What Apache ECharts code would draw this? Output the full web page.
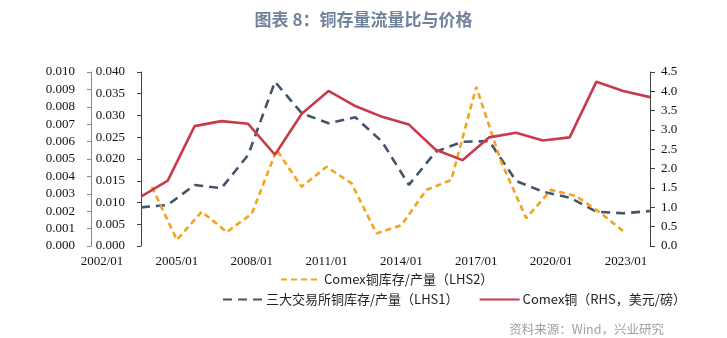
<!DOCTYPE html>
<html>
<head>
<meta charset="utf-8">
<script src="https://cdn.jsdelivr.net/npm/echarts@6/dist/echarts.min.js"></script>
<style>html,body{margin:0;padding:0;background:#fff;}#c{width:727px;height:338px;}</style>
</head>
<body>
<div id="c"></div>
<script>
// Categories for the price / three-exchange series (secondary x axis)
var years = ['2004','2005','2006','2007','2008','2009','2010','2011','2012','2013','2014','2015','2016','2017','2018','2019','2020','2021','2022','2023'];
// Tick labels of the visible (primary) x axis
var tickLabels = ['2002/01','2003/01','2004/01','2005/01','2006/01','2007/01','2008/01','2009/01','2010/01','2011/01','2012/01','2013/01','2014/01','2015/01','2016/01','2017/01','2018/01','2019/01','2020/01','2021/01','2022/01','2023/01'];
// Comex copper inventory / production (LHS2), 2004-2023
var comexRatio = [0.0136,0.0014,0.0079,0.0032,0.0074,0.0221,0.0136,0.0182,0.0144,0.0029,0.0048,0.0129,0.0152,0.0366,0.0193,0.0064,0.0129,0.0115,0.0075,0.0029];
// Three exchanges copper inventory / production (LHS1), 2004-2023
var exchRatio = [0.00222,0.00236,0.00351,0.00332,0.00523,0.00944,0.00763,0.00705,0.00740,0.00599,0.00351,0.00542,0.00599,0.00603,0.00374,0.00312,0.00278,0.00197,0.00188,0.00201];
// Comex copper price (RHS, USD/lb), 2004-2023
var comexPrice = [1.28,1.69,3.10,3.23,3.16,2.36,3.42,4.01,3.62,3.34,3.14,2.49,2.22,2.81,2.93,2.73,2.81,4.25,4.01,3.85];

var orangeData = [null, null].concat(comexRatio);

var serif = 'Liberation Serif';
var cjk = 'Noto Sans CJK SC';
var axisLabelBase = {fontFamily: serif, fontSize: 13, color: '#111'};

var chart = echarts.init(document.getElementById('c'), null, {renderer: 'canvas'});
chart.setOption({
  animation: false,
  backgroundColor: '#fff',
  title: [{
    text: '图表 8：铜存量流量比与价格',
    left: 'center', top: 6,
    textStyle: {fontFamily: cjk, fontSize: 17, fontWeight: 'bold', color: '#71829b'}
  }, {
    text: '资料来源：Wind，兴业研究',
    right: 58, top: 318,
    textStyle: {fontFamily: cjk, fontSize: 12.5, fontWeight: 'normal', color: '#a0a0a0'}
  }],
  legend: [{
    data: ['Comex铜库存/产量（LHS2）'],
    left: 275, top: 268,
    itemWidth: 40, itemHeight: 10, itemGap: 10,
    itemStyle: {opacity: 0},
    textStyle: {fontFamily: cjk, fontSize: 13, color: '#222', padding: [0,0,0,-2]}
  }, {
    data: ['三大交易所铜库存/产量（LHS1）', 'Comex铜（RHS，美元/磅）'],
    left: 217, top: 288,
    itemWidth: 40, itemHeight: 10, itemGap: 20,
    itemStyle: {opacity: 0},
    textStyle: {fontFamily: cjk, fontSize: 13, color: '#222', padding: [0,0,0,-2]}
  }],
  grid: [
    {left: 141, right: 77, top: 72, bottom: 92},
    {left: 102, right: 101, top: 72, bottom: 92}
  ],
  xAxis: [{
    gridIndex: 0, type: 'category', data: years, boundaryGap: false,
    axisLine: {show: false}, axisTick: {show: false}, axisLabel: {show: false}, splitLine: {show: false}
  }, {
    gridIndex: 1, type: 'category', data: tickLabels, boundaryGap: false,
    axisLine: {show: false}, axisTick: {show: false}, splitLine: {show: false},
    axisLabel: Object.assign({interval: 2, margin: 9}, axisLabelBase)
  }],
  yAxis: [{
    // LHS1 (outer)
    gridIndex: 0, type: 'value', position: 'left', offset: 50,
    min: 0, max: 0.010, interval: 0.001,
    axisLine: {show: true, lineStyle: {color: '#8a8a8a', width: 1}},
    axisTick: {show: true, length: 4, lineStyle: {color: '#8a8a8a'}},
    splitLine: {show: false},
    axisLabel: Object.assign({margin: 16, formatter: function (v) { return v.toFixed(3); }}, axisLabelBase)
  }, {
    // LHS2 (inner)
    gridIndex: 0, type: 'value', position: 'left', offset: 0,
    min: 0, max: 0.040, interval: 0.005,
    axisLine: {show: true, lineStyle: {color: '#404040', width: 1}},
    axisTick: {show: true, length: 4, lineStyle: {color: '#404040'}},
    splitLine: {show: false},
    axisLabel: Object.assign({margin: 16, formatter: function (v) { return v.toFixed(3); }}, axisLabelBase)
  }, {
    // RHS
    gridIndex: 0, type: 'value', position: 'right',
    min: 0, max: 4.5, interval: 0.5,
    axisLine: {show: true, lineStyle: {color: '#404040', width: 1}},
    axisTick: {show: true, length: 5, lineStyle: {color: '#404040'}},
    splitLine: {show: false},
    axisLabel: Object.assign({margin: 11, formatter: function (v) { return v.toFixed(1); }}, axisLabelBase)
  }, {
    // scale of the LHS2 series on the primary x axis grid (same range as LHS2)
    gridIndex: 1, type: 'value', min: 0, max: 0.040, interval: 0.005, show: false,
    splitLine: {show: false}
  }],
  series: [{
    name: 'Comex铜库存/产量（LHS2）', type: 'line',
    xAxisIndex: 1, yAxisIndex: 3, data: orangeData,
    symbol: 'none', connectNulls: false, z: 3,
    itemStyle: {color: '#f5a21f'},
    lineStyle: {color: '#f5a21f', width: 2.6, type: [6, 4]}
  }, {
    name: '三大交易所铜库存/产量（LHS1）', type: 'line',
    xAxisIndex: 0, yAxisIndex: 0, data: exchRatio,
    symbol: 'none', z: 2,
    itemStyle: {color: '#44546a'},
    lineStyle: {color: '#44546a', width: 2.6, type: [9, 6]}
  }, {
    name: 'Comex铜（RHS，美元/磅）', type: 'line',
    xAxisIndex: 0, yAxisIndex: 2, data: comexPrice,
    symbol: 'none', z: 4,
    itemStyle: {color: '#c93a4b'},
    lineStyle: {color: '#c93a4b', width: 2.6, type: 'solid'}
  }]
});
</script>
</body>
</html>
